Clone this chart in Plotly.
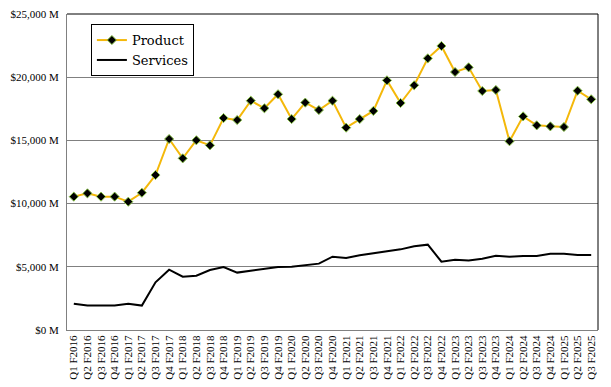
import plotly.graph_objects as go

quarters = []
for yr in range(2016, 2026):
    for q in range(1, 5):
        if yr == 2025 and q > 3:
            break
        quarters.append(f"Q{q} F{yr}")

product = [10550, 10810, 10550, 10550, 10150, 10860, 12260, 15110, 13580, 15010,
           14610, 16770, 16610, 18140, 17540, 18650, 16690, 17990, 17400, 18140,
           16010, 16690, 17330, 19750, 17960, 19360, 21490, 22470, 20410, 20780,
           18910, 18990, 14930, 16900, 16190, 16110, 16060, 18930, 18250]

services = [2080, 1930, 1930, 1930, 2080, 1930, 3770, 4770, 4220, 4300,
            4750, 4980, 4540, 4690, 4800, 4980, 5010, 5140, 5250, 5800,
            5700, 5910, 6070, 6220, 6380, 6620, 6750, 5410, 5560, 5490,
            5640, 5880, 5800, 5850, 5850, 6040, 6040, 5930, 5930]

y_ticks = [0, 5000, 10000, 15000, 20000, 25000]
y_tick_text = ["$0 M", "$5,000 M", "$10,000 M", "$15,000 M", "$20,000 M", "$25,000 M"]

FONT = "Liberation Serif"

fig = go.Figure()
fig.add_trace(go.Scatter(
    x=quarters, y=product, name="Product", mode="lines+markers",
    line=dict(color="#F4B80A", width=2),
    marker=dict(symbol="diamond", size=7, color="black",
                line=dict(color="#8BC34A", width=1)),
))
fig.add_trace(go.Scatter(
    x=quarters, y=services, name="Services", mode="lines",
    line=dict(color="black", width=2),
))

fig.update_layout(
    width=611, height=387,
    margin=dict(l=67, r=13, t=14, b=57),
    paper_bgcolor="white", plot_bgcolor="white",
    font=dict(family=FONT, color="black"),
    showlegend=True,
    legend=dict(x=0.045, y=0.968, xanchor="left", yanchor="top",
                bgcolor="white", bordercolor="black", borderwidth=1,
                font=dict(family="DejaVu Serif", size=13), tracegroupgap=0,
                itemwidth=30),
    xaxis=dict(
        type="category", tickangle=-90, showgrid=False, automargin=False,
        showline=True, linecolor="#808080", linewidth=1,
        ticks="", tickfont=dict(family=FONT, size=11),
        range=[-0.5, len(quarters) - 0.5],
    ),
    yaxis=dict(
        range=[0, 25000], tickvals=y_ticks, ticktext=y_tick_text, automargin=False,
        showgrid=True, gridcolor="#808080", gridwidth=1,
        showline=True, linecolor="#808080", linewidth=1,
        zeroline=False, ticks="", tickfont=dict(family=FONT, size=11),
        ticklabelstandoff=5,
    ),
    shapes=[
        dict(type="line", xref="paper", yref="paper", x0=0, x1=1, y0=1, y1=1,
             line=dict(color="black", width=1)),
        dict(type="line", xref="paper", yref="paper", x0=1, x1=1, y0=0, y1=1,
             line=dict(color="black", width=1)),
    ],
)

fig.write_html("out.html", config={"displayModeBar": False},
               post_script="document.body.style.margin='0';")
